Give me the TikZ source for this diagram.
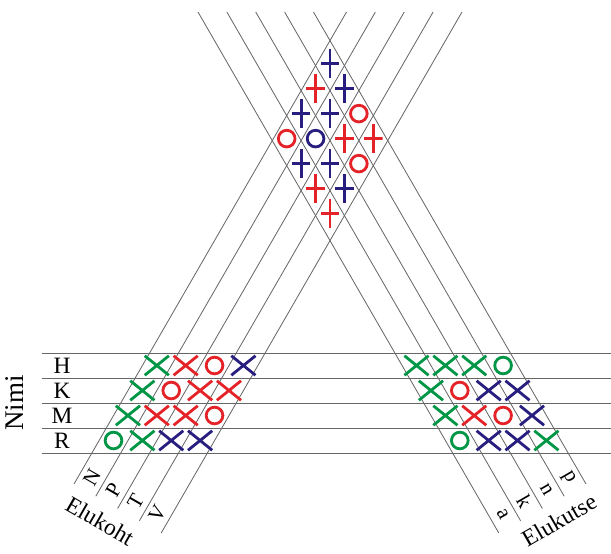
\documentclass[tikz,border=0pt]{standalone}
\usepackage{fontspec}
\setmainfont{Liberation Serif}
\usepackage{tikz}
\usetikzlibrary{shapes.misc}
\definecolor{markgreen}{RGB}{0,150,70}
\definecolor{markred}{RGB}{228,35,40}
\definecolor{markblue}{RGB}{40,30,128}
\tikzstyle{gridline}=[draw=black!60, line width=0.7pt]
\tikzstyle{xmark}=[cross out, line width=2.4pt, minimum width=0.64cm, minimum height=0.5cm, inner sep=0pt]
\tikzstyle{omark}=[circle, line width=2.4pt, minimum size=0.5cm, inner sep=0pt]
\tikzset{pmark/.style={rectangle, inner sep=0pt, minimum width=0.56cm, minimum height=0.86cm,
  path picture={\draw[#1, line width=2.4pt] (path picture bounding box.north) -- (path picture bounding box.south)
    (path picture bounding box.west) -- (path picture bounding box.east);}}}
\tikzstyle{xgreen}=[xmark, draw=markgreen]
\tikzstyle{xred}=[xmark, draw=markred]
\tikzstyle{xblue}=[xmark, draw=markblue]
\tikzstyle{ogreen}=[omark, draw=markgreen]
\tikzstyle{ored}=[omark, draw=markred]
\tikzstyle{oblue}=[omark, draw=markblue]
\tikzstyle{pred}=[pmark=markred]
\tikzstyle{pblue}=[pmark=markblue]
\tikzstyle{rowlabel}=[font=\fontsize{20}{22}\selectfont, inner sep=0pt]
\tikzstyle{collabel}=[font=\fontsize{18}{20}\selectfont, inner sep=0pt]
\tikzstyle{axislabel}=[font=\fontsize{20}{22}\selectfont, inner sep=0pt]

\begin{document}
\begin{tikzpicture}[x=0.03cm, y=-0.03cm]
	\useasboundingbox (0,0) rectangle (611,553);
	% lines down to the right (Elukutse)
	\begin{scope}
		\coordinate (ka0) at (198,12);     \coordinate (kb0) at (498.8,533);
		\coordinate (ka1) at (226.87,12);  \coordinate (kb1) at (520.6,520.75);
		\coordinate (ka2) at (255.74,12);  \coordinate (kb2) at (542.4,508.5);
		\coordinate (ka3) at (284.61,12);  \coordinate (kb3) at (564.2,496.25);
		\coordinate (ka4) at (313.48,12);  \coordinate (kb4) at (586.0,484);
		\path [gridline] (ka0) -- (kb0);
		\path [gridline] (ka1) -- (kb1);
		\path [gridline] (ka2) -- (kb2);
		\path [gridline] (ka3) -- (kb3);
		\path [gridline] (ka4) -- (kb4);
	\end{scope}
	% lines down to the left (Elukoht)
	\begin{scope}
		\coordinate (ha0) at (346.5,12);   \coordinate (hb0) at (74.0,484);
		\coordinate (ha1) at (375.37,12);  \coordinate (hb1) at (95.8,496.25);
		\coordinate (ha2) at (404.24,12);  \coordinate (hb2) at (117.6,508.5);
		\coordinate (ha3) at (433.11,12);  \coordinate (hb3) at (139.4,520.75);
		\coordinate (ha4) at (461.98,12);  \coordinate (hb4) at (161.2,533);
		\path [gridline] (ha0) -- (hb0);
		\path [gridline] (ha1) -- (hb1);
		\path [gridline] (ha2) -- (hb2);
		\path [gridline] (ha3) -- (hb3);
		\path [gridline] (ha4) -- (hb4);
	\end{scope}
	% horizontal lines (Nimi)
	\begin{scope}
		\coordinate (na0) at (42,353);  \coordinate (nb0) at (611,353);
		\coordinate (na1) at (42,378);  \coordinate (nb1) at (611,378);
		\coordinate (na2) at (42,403);  \coordinate (nb2) at (611,403);
		\coordinate (na3) at (42,428);  \coordinate (nb3) at (611,428);
		\coordinate (na4) at (42,453);  \coordinate (nb4) at (611,453);
		\path [gridline] (na0) -- (nb0);
		\path [gridline] (na1) -- (nb1);
		\path [gridline] (na2) -- (nb2);
		\path [gridline] (na3) -- (nb3);
		\path [gridline] (na4) -- (nb4);
	\end{scope}
	% top diamond: Elukutse x Elukoht
	\begin{scope}[shift={(286.7,138.6)}, x={(0.433cm,0.75cm)}, y={(0.433cm,-0.75cm)}]
		\node (c30) at (3,0)[pblue] {};
		\node (c20) at (2,0)[pred] {};
		\node (c31) at (3,1)[pblue] {};
		\node (c10) at (1,0)[pblue] {};
		\node (c21) at (2,1)[pblue] {};
		\node (c32) at (3,2)[ored] {};
		\node (c00) at (0,0)[ored] {};
		\node (c11) at (1,1)[oblue] {};
		\node (c22) at (2,2)[pred] {};
		\node (c33) at (3,3)[pred] {};
		\node (c01) at (0,1)[pblue] {};
		\node (c12) at (1,2)[pblue] {};
		\node (c23) at (2,3)[ored] {};
		\node (c02) at (0,2)[pred] {};
		\node (c13) at (1,3)[pblue] {};
		\node (c03) at (0,3)[pred] {};
	\end{scope}
	% left grid: Nimi x Elukoht
	\begin{scope}[shift={(156.8,365.5)}, x={(0.866cm,0cm)}, y={(-0.433cm,-0.75cm)}]
		\node (l00) at (0,0)[xgreen] {};
		\node (l10) at (1,0)[xred] {};
		\node (l20) at (2,0)[ored] {};
		\node (l30) at (3,0)[xblue] {};
		\node (l01) at (0,1)[xgreen] {};
		\node (l11) at (1,1)[ored] {};
		\node (l21) at (2,1)[xred] {};
		\node (l31) at (3,1)[xred] {};
		\node (l02) at (0,2)[xgreen] {};
		\node (l12) at (1,2)[xred] {};
		\node (l22) at (2,2)[xred] {};
		\node (l32) at (3,2)[ored] {};
		\node (l03) at (0,3)[ogreen] {};
		\node (l13) at (1,3)[xgreen] {};
		\node (l23) at (2,3)[xblue] {};
		\node (l33) at (3,3)[xblue] {};
	\end{scope}
	% right grid: Nimi x Elukutse
	\begin{scope}[shift={(416.5,365.5)}, x={(0.866cm,0cm)}, y={(0.433cm,-0.75cm)}]
		\node (r00) at (0,0)[xgreen] {};
		\node (r10) at (1,0)[xgreen] {};
		\node (r20) at (2,0)[xgreen] {};
		\node (r30) at (3,0)[ogreen] {};
		\node (r01) at (0,1)[xgreen] {};
		\node (r11) at (1,1)[ored] {};
		\node (r21) at (2,1)[xblue] {};
		\node (r31) at (3,1)[xblue] {};
		\node (r02) at (0,2)[xgreen] {};
		\node (r12) at (1,2)[xred] {};
		\node (r22) at (2,2)[ored] {};
		\node (r32) at (3,2)[xblue] {};
		\node (r03) at (0,3)[ogreen] {};
		\node (r13) at (1,3)[xblue] {};
		\node (r23) at (2,3)[xblue] {};
		\node (r33) at (3,3)[xgreen] {};
	\end{scope}
	% labels
	\node (nimi) at (15,403)[axislabel, font=\fontsize{23}{25}\selectfont, rotate=90] {Nimi};
	\node (H) at (62,365.5)[rowlabel] {H};
	\node (K) at (62,390.5)[rowlabel] {K};
	\node (M) at (62,415.5)[rowlabel] {M};
	\node (R) at (62,440.5)[rowlabel] {R};
	\node (N) at (91.9,477.2)[collabel, rotate=60] {N};
	\node (P) at (113.7,489.5)[collabel, rotate=60] {P};
	\node (T) at (135.5,501.7)[collabel, rotate=60] {T};
	\node (V) at (157.3,514)[collabel, rotate=60] {V};
	\node (elukoht) at (100,521)[axislabel, rotate=-30] {Elukoht};
	\node (a) at (502.7,514)[collabel, rotate=-60] {a};
	\node (k) at (524.5,501.7)[collabel, rotate=-60] {k};
	\node (n) at (546.3,489.5)[collabel, rotate=-60] {n};
	\node (p) at (568.1,477.2)[collabel, rotate=-60] {p};
	\node (elukutse) at (559,520)[axislabel, rotate=30] {Elukutse};
\end{tikzpicture}
\end{document}
